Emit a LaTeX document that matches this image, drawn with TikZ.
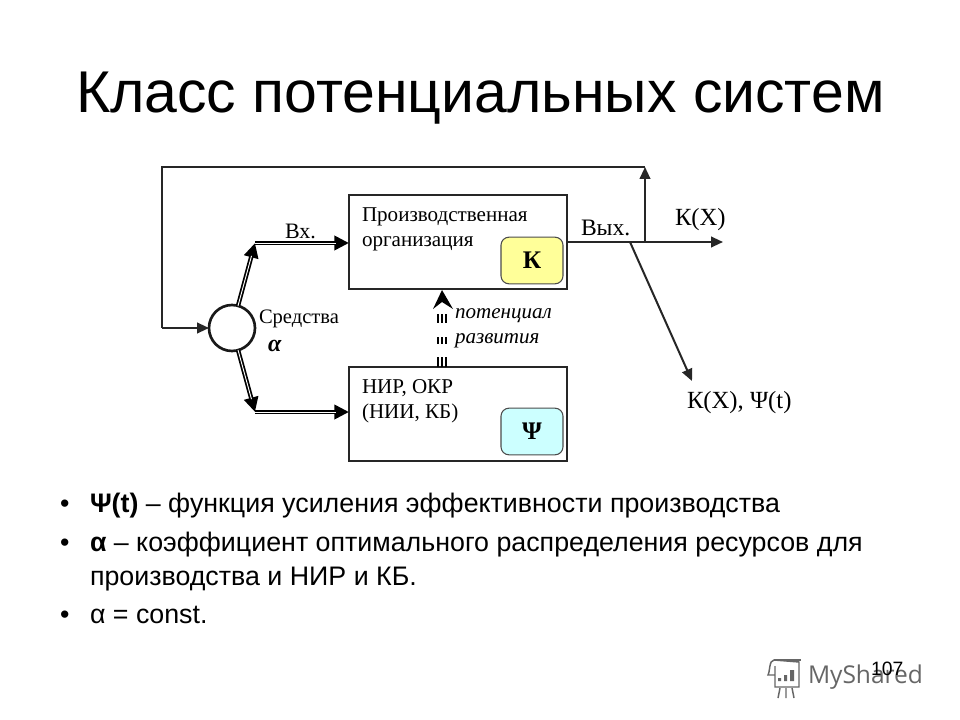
\documentclass[tikz,border=0pt]{standalone}
\usepackage{fontspec}
\setmainfont{Liberation Serif}
\newfontfamily\arialf{Liberation Sans}
\newfontfamily\opensf{Open Sans}
\usetikzlibrary{arrows.meta}
\newcommand{\fs}[1]{\fontsize{#1}{#1}\selectfont}
\definecolor{chipyellow}{HTML}{FFFF99}
\definecolor{chipcyan}{HTML}{CCFFFF}
\tikzset{
 every node/.style={inner sep=0pt,outer sep=0pt},
 lab/.style={anchor=base west,text=black},
 slide/.style={anchor=base west,font=\arialf\fs{20.1}},
 box/.style={draw=black!85,line width=2pt,fill=white},
 chip/.style={draw=black!70,line width=0.8pt,rounded corners=6pt,minimum width=46.5pt,minimum height=35pt},
 thin arrow/.style={draw=black!85,line width=1.5pt,-{Triangle[length=9pt,width=8pt]}},
 plain/.style={draw=black!85,line width=1.5pt},
 dbl/.style={draw=black,line width=3.3pt},
 dblin/.style={draw=white,line width=0.7pt},
 head/.style={-{Triangle[length=11pt,width=10.5pt]}},
 tri/.style={draw=black,line width=1.5pt,dash pattern=on 7.5pt off 10pt on 5.3pt off 10.5pt on 6.5pt off 30pt},
}
\begin{document}
\begin{tikzpicture}[x=0.75pt,y=-0.75pt]
\useasboundingbox (0,0) rectangle (960,720);
\fill[white] (0,0) rectangle (960,720);
% title
\node[lab,font=\arialf\fs{44.2}] (title) at (76,113) {Класс потенциальных систем};
% boxes
\node[box,minimum width=163.5pt,minimum height=70.5pt] (b1) at (458,242) {};
\node[box,minimum width=163.5pt,minimum height=70.5pt] (b2) at (458,414) {};
\node[chip,fill=chipyellow] (k) at (532,260.5) {\bfseries\fs{19}К};
\node[chip,fill=chipcyan] (psi) at (532,431.5) {\bfseries\fs{19}Ψ};
\node[circle,draw=black!90,line width=2pt,minimum size=34.5pt,fill=white] (c) at (232,328) {};
% coordinates
\coordinate (up) at (255,243);
\coordinate (dn) at (255,412);
\coordinate (o) at (723,242);
\coordinate (fb0) at (645,242);
\coordinate (fb1) at (645,167);
\coordinate (fb2) at (162,167);
\coordinate (fb3) at (162,328);
\coordinate (d0) at (630,242);
\coordinate (d1) at (692,381);
% feedback
\draw[thin arrow] (b1.east|-o) -- (o);
\draw[thin arrow] (fb0) -- (fb1);
\draw[plain] (fb1) -- (fb2) -- (fb3);
\draw[thin arrow] (fb3) -- (c);
\draw[thin arrow] (d0) -- (d1);
% double connectors
\draw[dbl,head] (c) -- (up);
\draw[dblin,shorten >=10pt,shorten <=0pt] (c) -- (up);
\draw[dbl,head] (c) -- (dn);
\draw[dblin,shorten >=10pt] (c) -- (dn);
\draw[dbl,head] (up) -- (b1.west|-up);
\draw[dblin,shorten >=10pt] (up) -- (b1.west|-up);
\draw[dbl,head] (dn) -- (b2.west|-dn);
\draw[dblin,shorten >=10pt] (dn) -- (b2.west|-dn);
% triple dashed
\coordinate (tb) at (442,367);
\coordinate (tt) at (442,290);
\coordinate (tb1) at (438,367); \coordinate (tt1) at (438,309);
\coordinate (tb2) at (442,367); \coordinate (tt2) at (442,309);
\coordinate (tb3) at (446,367); \coordinate (tt3) at (446,309);
\draw[tri] (tb1) -- (tt1);
\draw[tri] (tb2) -- (tt2);
\draw[tri] (tb3) -- (tt3);
\fill[black] (tt) -- (453,309) -- (442,302) -- (433,309) -- cycle;
% diagram labels
\node[lab,font=\fs{15.8}] (l1) at (362,222) {Производственная};
\node[lab,font=\fs{15.8}] (l2) at (362,247) {организация};
\node[lab,font=\fs{15.8}] (l3) at (362,393) {НИР, ОКР};
\node[lab,font=\fs{15.8}] (l4) at (362,418) {(НИИ, КБ)};
\node[lab,font=\fs{16.5}] (vx) at (285,239) {Вх.};
\node[lab,font=\fs{15.4}] (sr) at (259,323) {Средства};
\node[lab,font=\bfseries\itshape\fs{18}] (al) at (268,351) {α};
\node[lab,font=\itshape\fs{15.8}] (p1) at (455,319) {потенциал};
\node[lab,font=\itshape\fs{15.8}] (p2) at (455,344) {развития};
\node[lab,font=\fs{17.7}] (vy) at (581,236) {Вых.};
\node[lab,font=\fs{18.5}] (kx) at (675,226) {К(Х)};
\node[lab,font=\fs{18.5}] (kp) at (687,408) {К(Х), Ψ(t)};
% bullets
\node[slide] (b1t) at (60,512) {•};
\node[slide] (t1) at (90,512) {\textbf{Ψ(t)} – функция усиления эффективности производства};
\node[slide] (b2t) at (60,551) {•};
\node[slide] (t2) at (90,551) {\textbf{α} – коэффициент оптимального распределения ресурсов для};
\node[slide] (t2b) at (90,585) {производства и НИР и КБ.};
\node[slide] (b3t) at (60,623) {•};
\node[slide] (t3) at (90,623) {α = const.};
% watermark
\node[lab,font=\opensf\fs{18.4},text=black!60] (ms) at (808,683) {MyShared};
\node[lab,font=\arialf\fs{14.5}] (pg) at (871,675) {107};
\begin{scope}[draw=black!60,line width=1.1pt]
 \draw (775,666) -- (775,687) -- (799,687) -- (799,662) -- (774,660) .. controls (769,660) and (770,672) .. (768,675) -- (775,675);
 \draw (774,660) -- (801,660);
 \draw (778,698) -- (780,688) (786,698) -- (786,688) (794,698) -- (792,688);
 \fill[black!60] (778,678) rectangle (781,681) (784,675) rectangle (787,681) (790,670) rectangle (794,681);
\end{scope}
\end{tikzpicture}
\end{document}
